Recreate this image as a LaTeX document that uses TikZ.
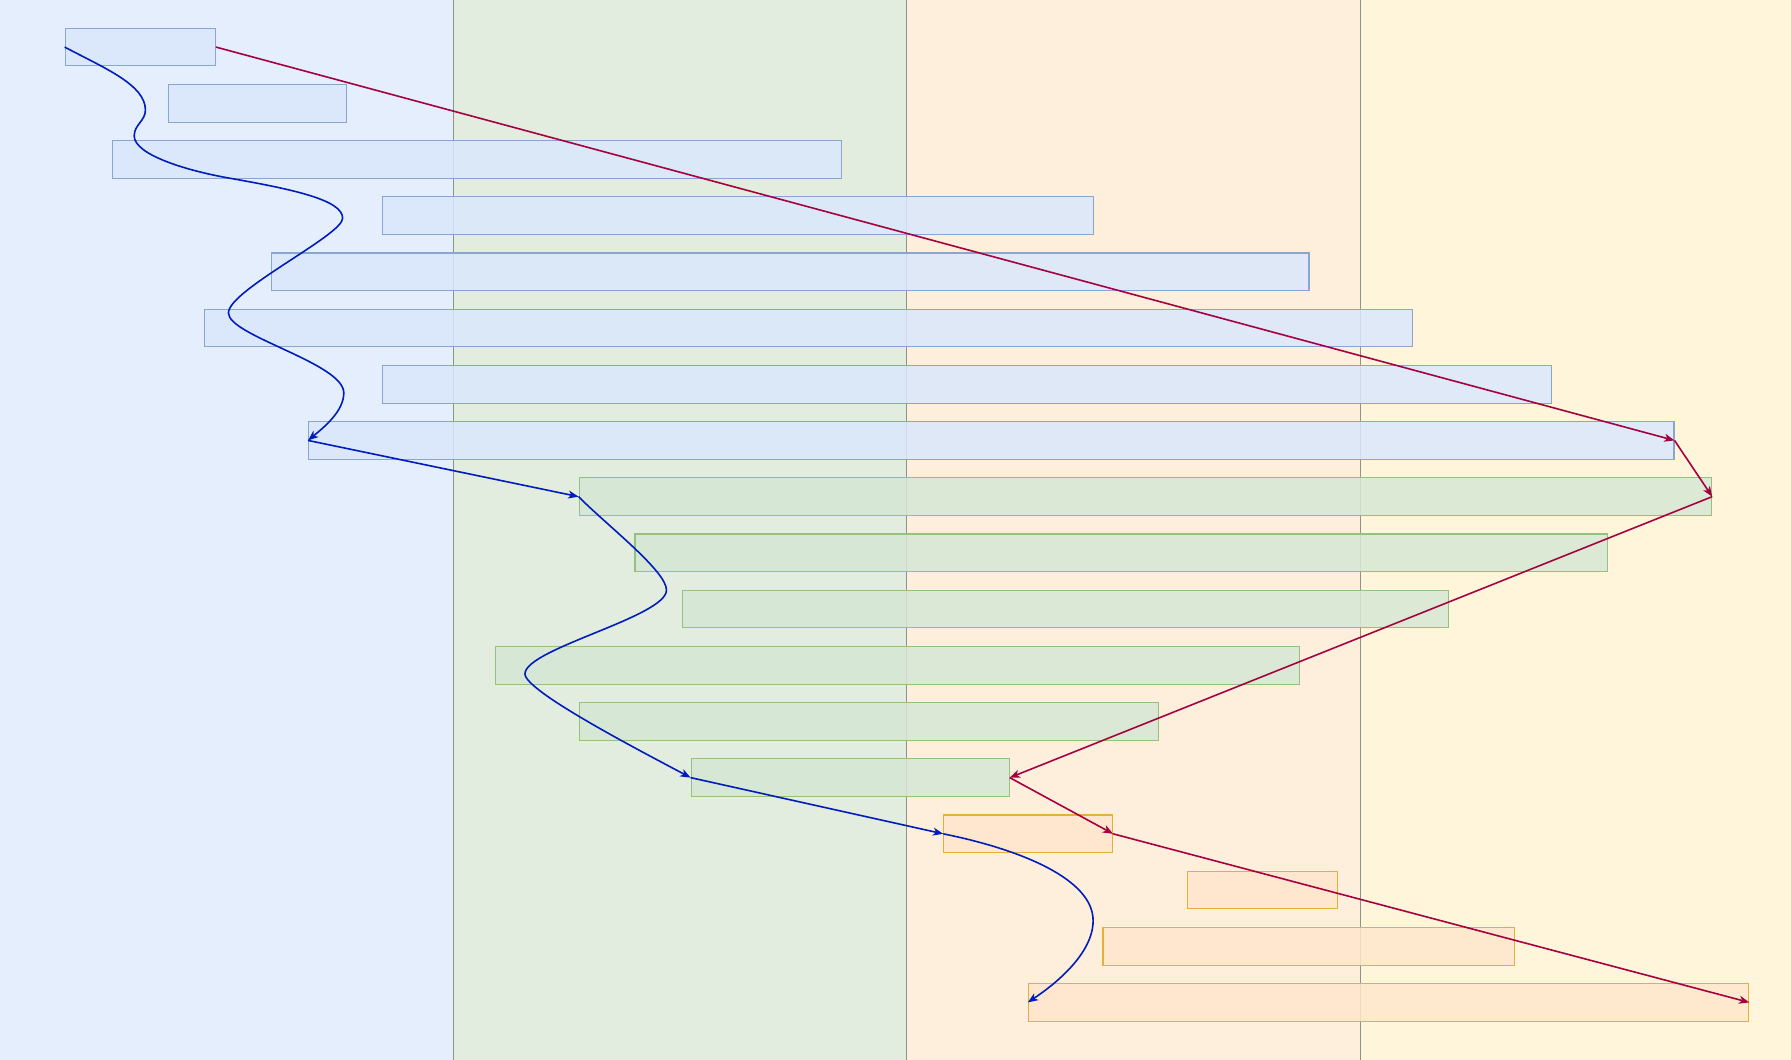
\documentclass[tikz,border=0pt]{standalone}
\usetikzlibrary{arrows.meta}
\definecolor{laneblue}{HTML}{E4EEFC}
\definecolor{lanegreen}{HTML}{E2EDDF}
\definecolor{laneorange}{HTML}{FEEEDC}
\definecolor{laneyellow}{HTML}{FEF5DB}
\definecolor{divcol}{HTML}{8C948E}
\definecolor{bfill}{HTML}{DAE8FC}
\definecolor{bdraw}{HTML}{8AA6CF}
\definecolor{gfill}{HTML}{D5E8D4}
\definecolor{gdraw}{HTML}{96C07E}
\definecolor{ofill}{HTML}{FFE6CC}
\definecolor{odraw}{HTML}{E6AE3A}
\definecolor{redc}{HTML}{A50040}
\definecolor{bluec}{HTML}{001DBC}
\tikzset{
  boxbase/.style={rectangle, anchor=north west, inner sep=0pt, minimum height=33pt, line width=1pt, fill opacity=0.85},
  bbox/.style={boxbase, fill=bfill, draw=bdraw},
  gbox/.style={boxbase, fill=gfill, draw=gdraw},
  obox/.style={boxbase, fill=ofill, draw=odraw},
  divider/.style={draw=divcol, line width=1pt},
  redarr/.style={draw=redc, line width=1.4pt, -{Stealth[length=9pt,width=7pt,inset=2.5pt]}},
  bluearr/.style={draw=bluec, line width=1.4pt, -{Stealth[length=9pt,width=7pt,inset=2.5pt]}}
}
\begin{document}
\begin{tikzpicture}[x=1pt,y=-1pt]
\useasboundingbox (0,0) rectangle (1568,928);
% lanes
\fill[laneblue] (0,0) rectangle (397.3,928);
\fill[lanegreen] (397.3,0) rectangle (793.4,928);
\fill[laneorange] (793.4,0) rectangle (1191,928);
\fill[laneyellow] (1191,0) rectangle (1568,928);
\draw[divider] (397.3,0) -- (397.3,928);
\draw[divider] (793.4,0) -- (793.4,928);
\draw[divider] (1191,0) -- (1191,928);
% blue boxes
\node[bbox, minimum width=131.4pt] (b1) at (56.6,24.2) {};
\node[bbox, minimum width=155.5pt] (b2) at (147,73.4) {};
\node[bbox, minimum width=638.2pt] (b3) at (97.8,122.6) {};
\node[bbox, minimum width=622.3pt] (b4) at (334.7,171.8) {};
\node[bbox, minimum width=908.6pt] (b5) at (236.9,221) {};
\node[bbox, minimum width=1057.1pt] (b6) at (178.9,270.2) {};
\node[bbox, minimum width=1023.3pt] (b7) at (334.7,319.4) {};
\node[bbox, minimum width=1195.3pt] (b8) at (269.7,368.6) {};
% green boxes
\node[gbox, minimum width=991.5pt] (b9) at (506.5,417.8) {};
\node[gbox, minimum width=851.6pt] (b10) at (555.4,467) {};
\node[gbox, minimum width=671.2pt] (b11) at (596.8,516.2) {};
\node[gbox, minimum width=703.6pt] (b12) at (433.4,565.4) {};
\node[gbox, minimum width=507.5pt] (b13) at (506.5,614.6) {};
\node[gbox, minimum width=278.4pt] (b14) at (604.6,663.8) {};
% orange boxes
\node[obox, minimum width=147.7pt] (b15) at (825.8,713) {};
\node[obox, minimum width=131.5pt] (b16) at (1038.8,762.2) {};
\node[obox, minimum width=360.2pt] (b17) at (965.1,811.4) {};
\node[obox, minimum width=630.7pt] (b18) at (899.8,860.6) {};
% red connectors
\draw[redarr] (b1.east) -- (b8.east);
\draw[redarr] (b8.east) -- (b9.east);
\draw[redarr] (b9.east) -- (b14.east);
\draw[redarr] (b14.east) -- (b15.east);
\draw[redarr] (b15.east) -- (b18.east);
% blue connectors
\draw[bluearr] (b1.west) .. controls (91.6,59.7) and (127.3,74.3) .. (127.3,96.3)
  .. controls (127.3,106) and (117.5,109) .. (117.5,119)
  .. controls (117.5,135) and (161,149) .. (201,156)
  .. controls (256,165.7) and (300,175) .. (300,191)
  .. controls (300,206) and (200,254) .. (200,274)
  .. controls (200,294) and (301,318) .. (301,344)
  .. controls (301,360) and (283.7,374) .. (b8.west);
\draw[bluearr] (b8.west) -- (b9.west);
\draw[bluearr] (b9.west) .. controls (531.5,460) and (583.5,500) .. (583.5,516.6)
  .. controls (583.5,540) and (459.6,568) .. (459.6,590)
  .. controls (459.6,605) and (558.6,656.3) .. (b14.west);
\draw[bluearr] (b14.west) -- (b15.west);
\draw[bluearr] (b15.west) .. controls (895,744) and (957,770) .. (957,806)
  .. controls (957,835) and (923.8,861.6) .. (b18.west);
\end{tikzpicture}
\end{document}
